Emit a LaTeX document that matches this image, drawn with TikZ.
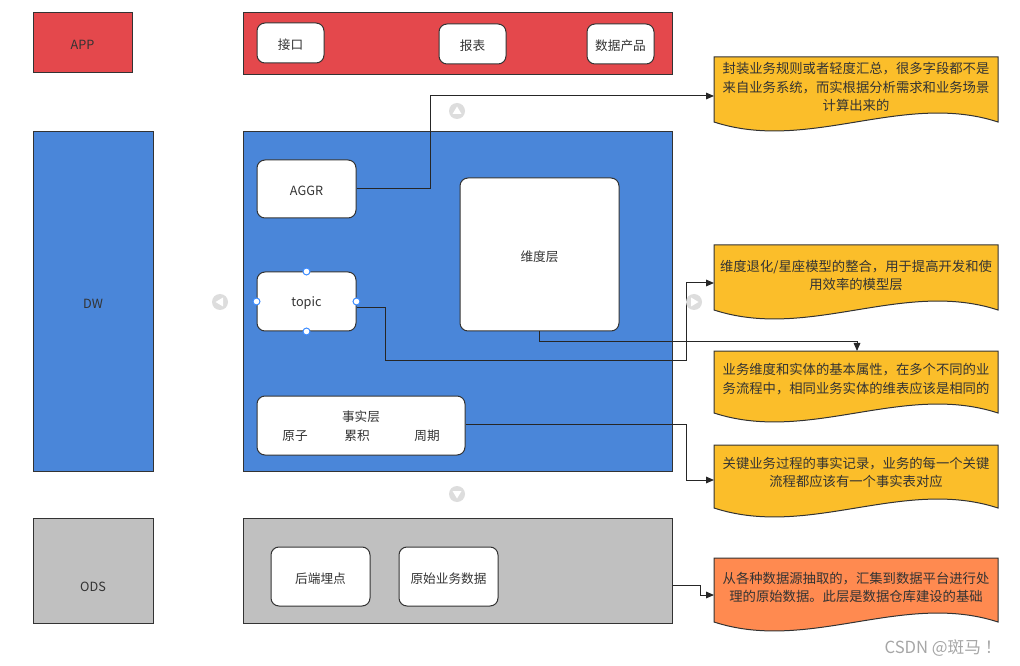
\documentclass[tikz,border=0pt]{standalone}
\usepackage{fontspec}
\setmainfont{Noto Sans CJK SC}
\usetikzlibrary{arrows.meta,fit,calc}
\definecolor{edge}{HTML}{333333}
\definecolor{txt}{HTML}{333333}
\definecolor{appred}{HTML}{E4484C}
\definecolor{dwblue}{HTML}{4A86D9}
\definecolor{odsgray}{HTML}{C0C0C0}
\definecolor{noteyellow}{HTML}{FBBE2A}
\definecolor{noteorange}{HTML}{FF8A50}
\definecolor{handle}{HTML}{3D8CFF}
\definecolor{iconbg}{HTML}{DDDDDD}
\newcommand{\docshape}[5]{%
  \filldraw[fill=#5, draw=edge, line width=0.75pt]
    (#1,#2) -- (#3,#2) -- (#3,#4)
    .. controls ($(#3,#4)+(-95,-31)$) and ($(#1,#4)+(95,31)$) .. (#1,#4) -- cycle;}
\begin{document}
\begin{tikzpicture}[x=0.75pt,y=-0.75pt,
  lbl/.style={inner sep=0pt, text=txt, font=\fontsize{9.5}{11}\selectfont},
  clbl/.style={lbl, yshift=-1.5pt},
  lay/.style={draw=edge, line width=0.75pt, inner sep=0pt},
  card/.style={draw=edge, fill=white, rounded corners=6pt, line width=0.75pt,
    inner sep=0pt},
  notetext/.style={inner sep=0pt, text=txt, align=center,
    font=\fontsize{10}{14}\selectfont},
  conn/.style={draw=black!85, line width=0.75pt, -{Triangle[length=6pt,width=5pt]}},
  hdl/.style={draw=handle, fill=white, line width=0.75pt},
  ]
\useasboundingbox (0,0) rectangle (1020,666);

% APP layer
\node[lay, fill=appred, fit={(33,13)(132,73)}, label={[clbl]center:APP}] (app) {};
\node[lay, fill=appred, fit={(243,13)(672,75)}] (appc) {};
\node[card, fit={(257,23)(324,63)}, label={[clbl]center:接口}] (api) {};
\node[card, fit={(439,24)(506,64)}, label={[clbl]center:报表}] (report) {};
\node[card, fit={(587,24)(654,64)}, label={[clbl]center:数据产品}] (product) {};

% DW layer
\node[lay, fill=dwblue, fit={(33,132)(153,471)}, label={[clbl]center:DW}] (dw) {};
\node[lay, fill=dwblue, fit={(243,132)(672,471)}] (dwc) {};
\node[card, fit={(257,160)(356,218)}, label={[clbl]center:AGGR}] (aggr) {};
\node[card, fit={(460,178)(619,331)}, label={[clbl]center:维度层}] (dim) {};
\node[card, fit={(257,272)(356,331)}, label={[clbl]center:topic}] (topic) {};
\node[card, fit={(257,396)(465,455)}] (fact) {};
\node[lbl] (factt) at (361,417) {事实层};
\node[lbl] (atom) at (295,436) {原子};
\node[lbl] (accu) at (357,436) {累积};
\node[lbl] (peri) at (427,436) {周期};

% topic selection handles
\draw[hdl] (topic.north) circle[radius=2.6pt];
\draw[hdl] (topic.south) circle[radius=2.6pt];
\draw[hdl] (topic.west) circle[radius=2.6pt];
\draw[hdl] (topic.east) circle[radius=2.6pt];

% ODS layer
\node[lay, fill=odsgray, fit={(33,518)(153,623)}, label={[lbl, yshift=-12.5pt]center:ODS}] (ods) {};
\node[lay, fill=odsgray, fit={(243,518)(672,623)}] (odsc) {};
\node[card, fit={(271,547)(370,606)}, label={[clbl]center:后端埋点}] (track) {};
\node[card, fit={(399,547)(498,606)}, label={[clbl]center:原始业务数据}] (raw) {};

% notes
\docshape{714}{57}{998}{122}{noteyellow}
\node[notetext] (n1) at (856,87) {封装业务规则或者轻度汇总，很多字段都不是\\来自业务系统，而实根据分析需求和业务场景\\计算出来的};
\docshape{714}{245}{998}{310}{noteyellow}
\node[notetext] (n2) at (856,275.5) {维度退化/星座模型的整合，用于提高开发和使\\用效率的模型层};
\docshape{714}{351}{998}{413}{noteyellow}
\node[notetext] (n3) at (856,379) {业务维度和实体的基本属性，在多个不同的业\\务流程中，相同业务实体的维表应该是相同的};
\docshape{714}{445}{998}{508}{noteyellow}
\node[notetext] (n4) at (856,472.5) {关键业务过程的事实记录，业务的每一个关键\\流程都应该有一个事实表对应};
\docshape{714}{558}{998}{622}{noteorange}
\node[notetext] (n5) at (856,587.5) {从各种数据源抽取的，汇集到数据平台进行处\\理的原始数据。此层是数据仓库建设的基础};

\coordinate (n1in) at (714,96);
\coordinate (n2in) at (714,283);
\coordinate (n3in) at (857,351);
\coordinate (n4in) at (714,480);
\coordinate (n5in) at (714,595);

% connectors
\draw[conn] (aggr.east) -| (430,96) -- (n1in);
\draw[conn] ($(topic.east)+(0,6)$) -| (385,360) -| (686,283) -- (n2in);
\draw[conn] (dim.south) |- (857,342) -- (n3in);
\draw[conn] ($(fact.east)+(0,-1.5)$) -| (686,480) -- (n4in);
\draw[conn] ($(odsc.east)+(0,14.5)$) -| (700,595) -- (n5in);

% hover arrow icons
\fill[iconbg] (457,111) circle[radius=6pt];
\fill[white] (457,106.5) -- (452.5,114) -- (461.5,114) -- cycle;
\fill[iconbg] (457,494) circle[radius=6pt];
\fill[white] (457,498.5) -- (452.5,491) -- (461.5,491) -- cycle;
\fill[iconbg] (220,302) circle[radius=6pt];
\fill[white] (215.5,302) -- (223,297.5) -- (223,306.5) -- cycle;
\fill[iconbg] (694,302) circle[radius=6pt];
\fill[white] (698.5,302) -- (691,297.5) -- (691,306.5) -- cycle;

% watermark
\node[inner sep=0pt, text=black!35, font=\fontsize{12.5}{14}\selectfont] (wm) at (943,648) {CSDN @斑马 ！};
\end{tikzpicture}
\end{document}
